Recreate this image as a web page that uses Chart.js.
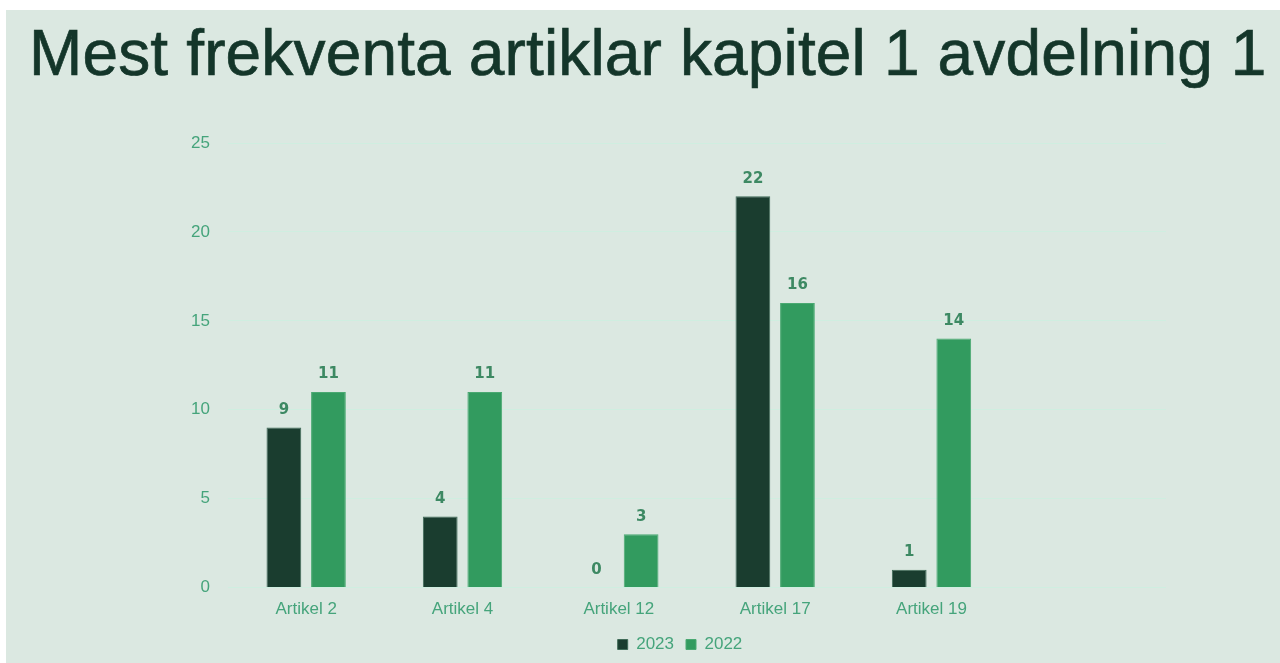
<!DOCTYPE html>
<html>
<head>
<meta charset="utf-8">
<script src="https://cdn.jsdelivr.net/npm/chart.js@4"></script>
<style>
  html, body { margin: 0; padding: 0; background: #ffffff; }
  #wrap {
    position: absolute; left: 6px; top: 10px;
    width: 1274px; height: 653px;
    background: #dbe8e1;
  }
  #wrap h1 {
    position: absolute; left: 23px; top: 11px; margin: 0;
    font: normal 64px/64px "Liberation Sans", Arial, sans-serif;
    letter-spacing: 0.15px;
    -webkit-text-stroke: 0.7px #14362a;
    color: #14362a;
    white-space: nowrap;
  }
  #plot {
    position: absolute; left: 0; top: 90px;
    width: 1274px; height: 563px;
  }
</style>
</head>
<body>
<div id="wrap">
  <h1>Mest frekventa artiklar kapitel 1 avdelning 1</h1>
  <div id="plot"><canvas id="chart"></canvas></div>
</div>
<script>
// Data
const categories = ['Artikel 2', 'Artikel 4', 'Artikel 12', 'Artikel 17', 'Artikel 19', ''];
const values2023 = [9, 4, 0, 22, 1, null];
const values2022 = [11, 11, 3, 16, 14, null];
const yTicks = [0, 5, 10, 15, 20, 25];

const tickColor = '#45a47b';
const labelColor = '#3d8963';
const tickFont = { family: '"Liberation Sans", Arial, sans-serif', size: 17 };

// Draws the value above every bar (no datalabels plugin available)
const valueLabels = {
  id: 'valueLabels',
  afterDatasetsDraw(chart) {
    const ctx = chart.ctx;
    ctx.save();
    ctx.font = 'bold 15px "DejaVu Sans", sans-serif';
    ctx.fillStyle = labelColor;
    ctx.textAlign = 'center';
    ctx.textBaseline = 'bottom';
    chart.data.datasets.forEach((ds, i) => {
      chart.getDatasetMeta(i).data.forEach((bar, j) => {
        const v = ds.data[j];
        if (v === null || v === undefined) return;
        ctx.fillText(String(v), bar.x, bar.y - 10);
      });
    });
    ctx.restore();
  }
};

// Legend in the original sits a bit right of the centre
const legendShift = {
  id: 'legendShift',
  afterLayout(chart) {
    chart.legend.left += 85;
    chart.legend.right += 85;
  }
};

new Chart(document.getElementById('chart'), {
  type: 'bar',
  data: {
    labels: categories,
    datasets: [
      {
        label: '2023',
        data: values2023,
        backgroundColor: '#1a3d2f',
        borderColor: '#3f6b58',
        borderWidth: 1,
        categoryPercentage: 0.57,
        barPercentage: 0.78
      },
      {
        label: '2022',
        data: values2022,
        backgroundColor: '#329b5f',
        borderColor: '#4aa972',
        borderWidth: 1,
        categoryPercentage: 0.57,
        barPercentage: 0.78
      }
    ]
  },
  options: {
    responsive: true,
    maintainAspectRatio: false,
    animation: false,
    layout: { padding: { left: 18, right: 114, top: 43, bottom: 0 } },
    plugins: {
      legend: {
        position: 'bottom',
        labels: {
          color: tickColor,
          boxWidth: 10,
          boxHeight: 10,
          padding: 12,
          font: tickFont
        }
      },
      tooltip: { enabled: false }
    },
    scales: {
      x: {
        grid: { display: false },
        border: { display: false },
        ticks: { color: tickColor, padding: 4, font: tickFont }
      },
      y: {
        min: 0,
        max: 25,
        afterFit(scale) { scale.width = 204; },
        afterBuildTicks(scale) { scale.ticks = yTicks.map(v => ({ value: v })); },
        grid: { color: '#cfeee0', drawTicks: false },
        border: { display: false },
        ticks: { color: tickColor, padding: 18, font: tickFont }
      }
    }
  },
  plugins: [valueLabels, legendShift]
});
</script>
</body>
</html>
